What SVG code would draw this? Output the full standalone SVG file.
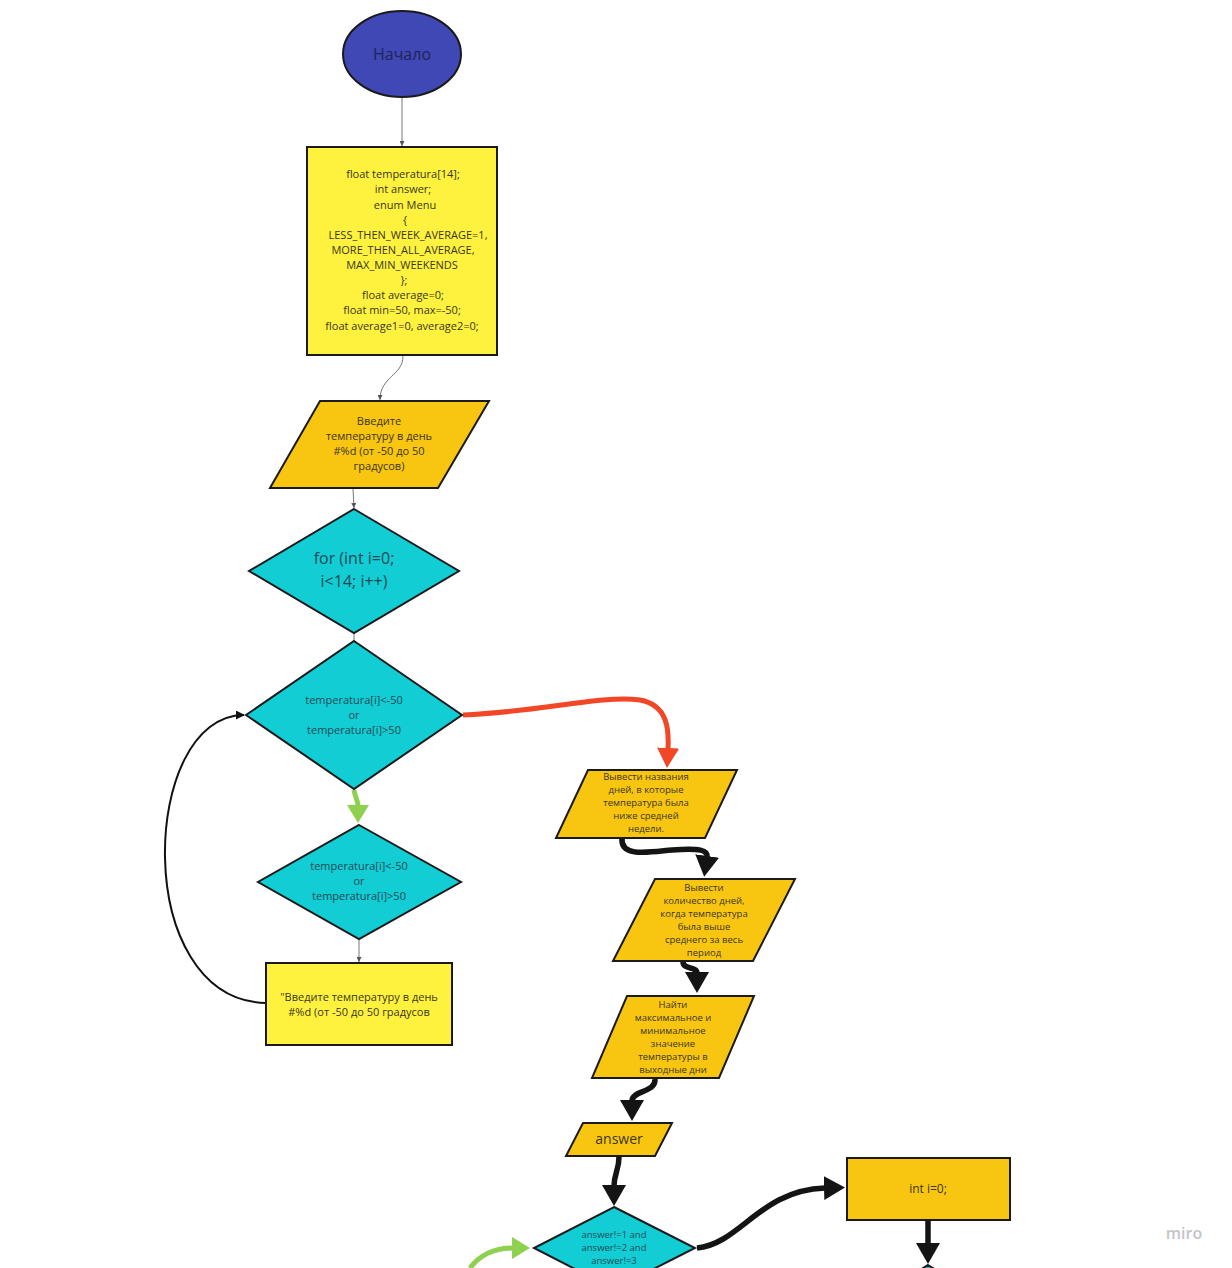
<svg xmlns="http://www.w3.org/2000/svg" width="1232" height="1268" viewBox="0 0 1232 1268">
  <style>
    text { font-family: "Open Sans", "Noto Sans", "Liberation Sans", sans-serif; text-anchor: middle; }
    .shape { stroke: #1a1a1a; stroke-width: 2; stroke-linejoin: miter; }
    .yellow { fill: #FEF23F; }
    .orange { fill: #F8C510; }
    .cyan { fill: #12CDD4; }
    .blue { fill: #3F48B4; }
    .t-dark { fill: #3a3620; }
    .t-cyan { fill: #1d4a54; }
    .thin { fill: none; stroke: #777; stroke-width: 1; }
    .loop { fill: none; stroke: #111; stroke-width: 2; }
    .thick { fill: none; stroke: #141414; stroke-width: 5.5; }
    .red { fill: none; stroke: #F24726; stroke-width: 5; }
    .green { fill: none; stroke: #8FD14F; stroke-width: 5; }
  </style>
  <defs>
    <marker id="headThin" markerUnits="userSpaceOnUse" viewBox="0 0 6 6" markerWidth="5" markerHeight="5" refX="6" refY="3" orient="auto">
      <path d="M0,0 L6,3 L0,6 z" fill="#555"/>
    </marker>
    <marker id="headLoop" markerUnits="userSpaceOnUse" viewBox="0 0 10 10" markerWidth="9" markerHeight="9" refX="9" refY="5" orient="auto">
      <path d="M0,0 L10,5 L0,10 z" fill="#111"/>
    </marker>
    <marker id="headBlack" markerUnits="userSpaceOnUse" viewBox="0 0 21 24" markerWidth="21" markerHeight="24" refX="1" refY="12" orient="auto">
      <path d="M0,0 L21,12 L0,24 z" fill="#141414"/>
    </marker>
    <marker id="headRed" markerUnits="userSpaceOnUse" viewBox="0 0 20 22" markerWidth="20" markerHeight="22" refX="1" refY="11" orient="auto">
      <path d="M0,0 L20,11 L0,22 z" fill="#F24726"/>
    </marker>
    <marker id="headGreen" markerUnits="userSpaceOnUse" viewBox="0 0 18 22" markerWidth="18" markerHeight="22" refX="1" refY="11" orient="auto">
      <path d="M0,0 L18,11 L0,22 z" fill="#8FD14F"/>
    </marker>
  </defs>

  <rect width="1232" height="1268" fill="#ffffff"/>

  <!-- connectors -->
  <g id="connectors">
    <path class="thin" d="M402,97 L402,146" marker-end="url(#headThin)"/>
    <path class="thin" d="M403,356 C403,376 380,376 380,400" marker-end="url(#headThin)"/>
    <path class="thin" d="M353,488 L354,508" marker-end="url(#headThin)"/>
    <path class="thin" d="M354,633 L354,641"/>
    <path class="thin" d="M359,939 L359,962" marker-end="url(#headThin)"/>
    <path class="loop" d="M266,1003 C130,1000 140,715 244,715" marker-end="url(#headLoop)"/>
    <path class="red" d="M463,715 C540,712 600,695 640,700 C668,705 669,730 668,749" marker-end="url(#headRed)"/>
    <path class="green" d="M354,790 C355,797 358,800 358,806" marker-end="url(#headGreen)"/>
    <path class="thick" d="M622,838 C620,858 650,852 672,850 C700,848 708,850 707,857" marker-end="url(#headBlack)"/>
    <path class="thick" d="M683,962 C683,970 697,966 697,973" marker-end="url(#headBlack)"/>
    <path class="thick" d="M655,1079 C656,1093 632,1090 632,1101" marker-end="url(#headBlack)"/>
    <path class="thick" d="M619,1157 C619,1170 614,1174 614,1186" marker-end="url(#headBlack)"/>
    <path class="green" d="M470,1268 C480,1255 495,1248 513,1248" marker-end="url(#headGreen)"/>
    <path class="thick" d="M697,1248 C740,1244 760,1190 825,1188" marker-end="url(#headBlack)"/>
    <path class="thick" d="M928,1221 L928,1244" marker-end="url(#headBlack)"/>
  </g>

  <!-- start -->
  <g id="start">
    <ellipse class="shape blue" cx="402" cy="54" rx="59" ry="43"/>
    <text x="402" y="60" font-size="16" fill="#1f2458">Начало</text>
  </g>

  <!-- variable declarations -->
  <g id="declarations">
    <rect class="shape yellow" x="307" y="147" width="190" height="208"/>
    <g font-size="11" class="t-dark">
      <text x="403" y="178">float temperatura[14];</text>
      <text x="403" y="193">int answer;</text>
      <text x="405" y="209">enum Menu</text>
      <text x="405" y="224">{</text>
      <text x="408" y="239">LESS_THEN_WEEK_AVERAGE=1,</text>
      <text x="403" y="254">MORE_THEN_ALL_AVERAGE,</text>
      <text x="402" y="269">MAX_MIN_WEEKENDS</text>
      <text x="404" y="284">};</text>
      <text x="403" y="299">float average=0;</text>
      <text x="402" y="314">float min=50, max=-50;</text>
      <text x="402" y="330">float average1=0, average2=0;</text>
    </g>
  </g>

  <!-- input prompt -->
  <g id="input-prompt">
    <polygon class="shape orange" points="320,401 489,401 438,488 270,488"/>
    <g font-size="11" class="t-dark">
      <text x="379" y="425">Введите</text>
      <text x="379" y="440">температуру в день</text>
      <text x="379" y="455">#%d (от -50 до 50</text>
      <text x="379" y="470">градусов)</text>
    </g>
  </g>

  <!-- for loop -->
  <g id="for-loop">
    <polygon class="shape cyan" points="354,509 459,571 354,633 249,571"/>
    <g font-size="16" class="t-cyan">
      <text x="354" y="564">for (int i=0;</text>
      <text x="354" y="587">i&lt;14; i++)</text>
    </g>
  </g>

  <!-- range check -->
  <g id="range-check">
    <polygon class="shape cyan" points="354,641 462,715 354,789 246,715"/>
    <g font-size="11" class="t-cyan">
      <text x="354" y="704">temperatura[i]&lt;-50</text>
      <text x="354" y="719">or</text>
      <text x="354" y="734">temperatura[i]&gt;50</text>
    </g>
  </g>

  <!-- range check, repeated -->
  <g id="range-check-2">
    <polygon class="shape cyan" points="359,825 461,882 359,939 258,882"/>
    <g font-size="11" class="t-cyan">
      <text x="359" y="870">temperatura[i]&lt;-50</text>
      <text x="359" y="885">or</text>
      <text x="359" y="900">temperatura[i]&gt;50</text>
    </g>
  </g>

  <!-- re-enter prompt -->
  <g id="reenter-prompt">
    <rect class="shape yellow" x="266" y="963" width="186" height="82"/>
    <g font-size="11" class="t-dark">
      <text x="359" y="1001">"Введите температуру в день</text>
      <text x="359" y="1016">#%d (от -50 до 50 градусов</text>
    </g>
  </g>

  <!-- output: days below weekly average -->
  <g id="out-below-average">
    <polygon class="shape orange" points="588,770 737,770 705,838 556,838"/>
    <g font-size="9.5" class="t-dark">
      <text x="646" y="780">Вывести названия</text>
      <text x="646" y="793">дней, в которые</text>
      <text x="646" y="806">температура была</text>
      <text x="646" y="819">ниже средней</text>
      <text x="646" y="832">недели.</text>
    </g>
  </g>

  <!-- output: days above overall average -->
  <g id="out-above-average">
    <polygon class="shape orange" points="655,879 795,879 753,961 613,961"/>
    <g font-size="9.5" class="t-dark">
      <text x="704" y="891">Вывести</text>
      <text x="704" y="904">количество дней,</text>
      <text x="704" y="917">когда температура</text>
      <text x="704" y="930">была выше</text>
      <text x="704" y="943">среднего за весь</text>
      <text x="704" y="956">период</text>
    </g>
  </g>

  <!-- weekend min / max -->
  <g id="weekend-min-max">
    <polygon class="shape orange" points="627,996 754,996 719,1078 592,1078"/>
    <g font-size="9.5" class="t-dark">
      <text x="673" y="1008">Найти</text>
      <text x="673" y="1021">максимальное и</text>
      <text x="673" y="1034">минимальное</text>
      <text x="673" y="1047">значение</text>
      <text x="673" y="1060">температуры в</text>
      <text x="673" y="1073">выходные дни</text>
    </g>
  </g>

  <!-- answer input -->
  <g id="answer-input">
    <polygon class="shape orange" points="583,1123 672,1123 655,1156 566,1156"/>
    <text x="619" y="1144" font-size="14" class="t-dark">answer</text>
  </g>

  <!-- answer validation -->
  <g id="answer-check">
    <polygon class="shape cyan" points="614,1207 695,1248 614,1289 534,1248"/>
    <g font-size="9.5" class="t-cyan">
      <text x="614" y="1238">answer!=1 and</text>
      <text x="614" y="1251">answer!=2 and</text>
      <text x="614" y="1264">answer!=3</text>
    </g>
  </g>

  <!-- counter init -->
  <g id="counter-init">
    <rect class="shape orange" x="847" y="1158" width="163" height="62"/>
    <text x="928" y="1193" font-size="12" class="t-dark">int i=0;</text>
  </g>

  <!-- next decision (continues below) -->
  <g id="next-check">
    <polygon class="shape cyan" points="928,1265 968,1290 928,1315 888,1290"/>
  </g>

  <text x="1184" y="1239" font-size="16" font-weight="600" fill="#c4c4c8">miro</text>
</svg>
